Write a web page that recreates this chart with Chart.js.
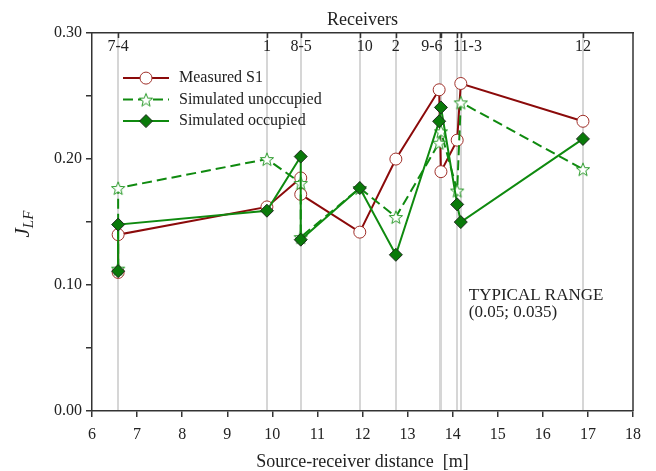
<!DOCTYPE html>
<html>
<head>
<meta charset="utf-8">
<script src="https://cdn.jsdelivr.net/npm/chart.js@4.4.0/dist/chart.umd.min.js"></script>
<style>
  html, body { margin: 0; padding: 0; background: #fff; }
  #wrap { width: 656px; height: 471px; }
</style>
</head>
<body>
<div id="wrap"><canvas id="chartJLF" width="656" height="471"></canvas></div>
<script>
// Source-receiver distance of every point, in plotting order [m]
const pointDist = [6.58, 6.58, 9.88, 10.63, 10.63, 11.94, 12.74, 13.70, 13.74, 14.10, 14.18, 16.89];

// J_LF values
const jlfMeasured   = [0.110, 0.140, 0.162, 0.185, 0.172, 0.142, 0.200, 0.255, 0.190, 0.215, 0.260, 0.230];
const jlfUnoccupied = [0.113, 0.177, 0.200, 0.181, 0.138, 0.177, 0.154, 0.213, 0.222, 0.175, 0.245, 0.192];
const jlfOccupied   = [0.111, 0.148, 0.159, 0.202, 0.136, 0.177, 0.124, 0.230, 0.241, 0.164, 0.150, 0.216];

// Receivers (top axis): grey guide lines and labels
const receiverLines  = [6.58, 9.88, 10.63, 11.94, 12.74, 13.71, 13.75, 14.10, 14.18, 16.89];
const receiverLabels = ['7-4', '1', '8-5', '10', '2', '9-6', '11-3', '12'];
const receiverLabelX = [6.58, 9.88, 10.64, 12.05, 12.74, 13.54, 14.33, 16.89];

const seriesNames = ['Measured S1', 'Simulated unoccupied', 'Simulated occupied'];

const FONT = "'Liberation Serif', 'Times New Roman', serif";
const INK = '#222';
const RED = '#8b0a0a';
const GREEN = '#0f8a0f';

function starImage(r, color) {
    const size = Math.ceil(2 * r + 4);
    const c = document.createElement('canvas');
    c.width = c.height = size;
    const g = c.getContext('2d');
    const cx = size / 2, cy = size / 2 + 0.8;
    g.beginPath();
    for (let i = 0; i < 10; i++) {
        const rr = i % 2 === 0 ? r : r * 0.42;
        const a = -Math.PI / 2 + i * Math.PI / 5;
        const px = cx + rr * Math.cos(a), py = cy + rr * Math.sin(a);
        if (i === 0) g.moveTo(px, py); else g.lineTo(px, py);
    }
    g.closePath();
    g.fillStyle = '#fff';
    g.fill();
    g.strokeStyle = color;
    g.lineWidth = 1;
    g.stroke();
    return c;
}
const starImg = starImage(7, '#2a9a2a');

function toPoints(ys) {
    return pointDist.map((x, i) => ({ x: x, y: ys[i] }));
}

// extra drawing: frame, top labels/ticks, legend, y title, note
const extrasPlugin = {
    id: 'extras',
    afterDraw(chart) {
        const ctx = chart.ctx;
        const a = chart.chartArea;
        const xs = chart.scales.x;
        ctx.save();

        // right side of the frame
        ctx.strokeStyle = '#333';
        ctx.lineWidth = 1.5;
        ctx.beginPath();
        ctx.moveTo(a.right, a.top);
        ctx.lineTo(a.right, a.bottom);
        ctx.stroke();

        // inward ticks on top axis
        ctx.lineWidth = 1.5;
        ctx.beginPath();
        receiverLines.forEach(v => {
            const px = Math.round(xs.getPixelForValue(v)) + 0.5;
            ctx.moveTo(px, a.top);
            ctx.lineTo(px, a.top + 5);
        });
        ctx.stroke();

        // receiver labels inside the top of the plot
        ctx.fillStyle = INK;
        ctx.font = '16px ' + FONT;
        ctx.textAlign = 'center';
        ctx.textBaseline = 'middle';
        receiverLabels.forEach((t, i) => {
            ctx.fillText(t, xs.getPixelForValue(receiverLabelX[i]), a.top + 14);
        });

        // legend
        const ds = chart.data.datasets;
        const lx = a.left + 31, ly = a.top + 45, rowH = 21.5;
        ctx.textAlign = 'left';
        ds.forEach((d, i) => {
            const y = ly + i * rowH;
            ctx.strokeStyle = d.borderColor;
            ctx.lineWidth = 2;
            ctx.setLineDash(d.borderDash || []);
            ctx.beginPath();
            ctx.moveTo(lx, y);
            ctx.lineTo(lx + 46, y);
            ctx.stroke();
            ctx.setLineDash([]);
            const mx = lx + 23;
            if (d.pointStyle === 'circle') {
                ctx.beginPath();
                ctx.arc(mx, y, 6, 0, Math.PI * 2);
                ctx.fillStyle = '#fff';
                ctx.fill();
                ctx.lineWidth = 1;
                ctx.strokeStyle = d.pointBorderColor;
                ctx.stroke();
            } else if (d.pointStyle === 'rectRot') {
                ctx.beginPath();
                ctx.moveTo(mx, y - 6.5);
                ctx.lineTo(mx + 6.5, y);
                ctx.lineTo(mx, y + 6.5);
                ctx.lineTo(mx - 6.5, y);
                ctx.closePath();
                ctx.fillStyle = d.pointBackgroundColor;
                ctx.fill();
                ctx.lineWidth = 1;
                ctx.strokeStyle = d.pointBorderColor;
                ctx.stroke();
            } else {
                ctx.drawImage(starImg, mx - starImg.width / 2, y - starImg.height / 2);
            }
            ctx.fillStyle = INK;
            ctx.font = '16px ' + FONT;
            ctx.fillText(d.label, lx + 56, y);
        });

        // note
        ctx.font = '17px ' + FONT;
        ctx.fillText('TYPICAL RANGE', xs.getPixelForValue(14.18) + 8, 296);
        ctx.fillText('(0.05; 0.035)', xs.getPixelForValue(14.18) + 8, 313);

        // y axis title J_LF
        ctx.translate(23, (a.top + a.bottom) / 2 + 2);
        ctx.rotate(-Math.PI / 2);
        ctx.font = 'italic 21px ' + FONT;
        const wJ = ctx.measureText('J').width;
        ctx.font = 'italic 15px ' + FONT;
        const wLF = ctx.measureText('LF').width;
        const x0 = -(wJ + wLF) / 2;
        ctx.textBaseline = 'alphabetic';
        ctx.font = 'italic 21px ' + FONT;
        ctx.fillText('J', x0, 6);
        ctx.font = 'italic 15px ' + FONT;
        ctx.fillText('LF', x0 + wJ, 10);
        ctx.restore();
    }
};

const datasets = [
    {
        label: seriesNames[0],
        data: toPoints(jlfMeasured),
        borderColor: RED,
        borderWidth: 2,
        pointStyle: 'circle',
        pointRadius: 6,
        pointBackgroundColor: '#fff',
        pointBorderColor: '#a0302a',
        pointBorderWidth: 1,
        order: 3
    },
    {
        label: seriesNames[1],
        data: toPoints(jlfUnoccupied),
        borderColor: GREEN,
        borderWidth: 2,
        borderDash: [10, 5],
        pointStyle: starImg,
        pointRadius: 7,
        order: 2
    },
    {
        label: seriesNames[2],
        data: toPoints(jlfOccupied),
        borderColor: GREEN,
        borderWidth: 2,
        pointStyle: 'rectRot',
        pointRadius: 6.5,
        pointBackgroundColor: '#0a7a0a',
        pointBorderColor: '#1d2b1d',
        pointBorderWidth: 1,
        order: 1
    }
];

new Chart(document.getElementById('chartJLF'), {
    type: 'line',
    data: { datasets: datasets },
    options: {
        responsive: false,
        animation: false,
        events: [],
        layout: { padding: { left: 50, right: 23, top: 9.5, bottom: 0 } },
        elements: { line: { tension: 0, fill: false } },
        plugins: {
            legend: { display: false },
            tooltip: { enabled: false }
        },
        scales: {
            x: {
                type: 'linear',
                position: 'bottom',
                min: 6,
                max: 18,
                ticks: { stepSize: 1, color: INK, font: { family: FONT, size: 16, lineHeight: 1 }, padding: 10 },
                grid: { drawOnChartArea: false, tickLength: 6, color: '#333', lineWidth: 1.5 },
                border: { color: '#333', width: 1.5 },
                title: {
                    display: true,
                    text: 'Source-receiver distance  [m]',
                    color: INK,
                    font: { family: FONT, size: 18, lineHeight: 1 },
                    padding: { top: 0, bottom: 0 }
                }
            },
            xTop: {
                type: 'linear',
                position: 'top',
                min: 6,
                max: 18,
                afterBuildTicks: s => { s.ticks = receiverLines.map(v => ({ value: v })); },
                ticks: { display: false },
                grid: { drawOnChartArea: true, drawTicks: false, color: '#d6d6d6', lineWidth: 2 },
                border: { display: true, color: '#333', width: 1.5 },
                title: {
                    display: true,
                    text: 'Receivers',
                    color: INK,
                    font: { family: FONT, size: 18 },
                    padding: { top: 0, bottom: 2 }
                }
            },
            y: {
                min: 0,
                max: 0.3,
                ticks: {
                    stepSize: 0.05,
                    color: INK,
                    font: { family: FONT, size: 16 },
                    padding: 4,
                    callback: v => Math.abs(v * 10 - Math.round(v * 10)) < 1e-6 ? v.toFixed(2) : ''
                },
                grid: { drawOnChartArea: false, tickLength: 6, color: '#333', lineWidth: 1.5 },
                border: { color: '#333', width: 1.5 }
            }
        }
    },
    plugins: [extrasPlugin]
});
</script>
</body>
</html>
